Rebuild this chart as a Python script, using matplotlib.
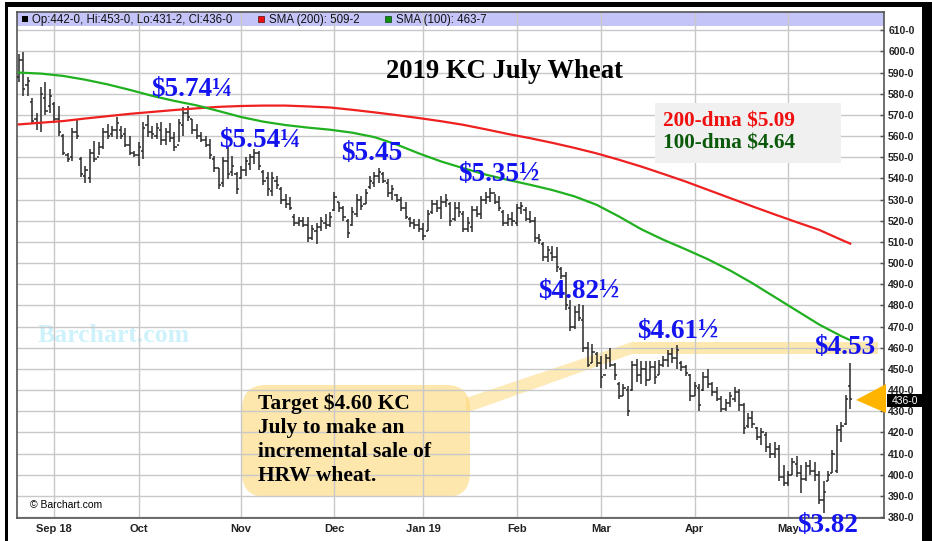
import matplotlib
matplotlib.use('Agg')
import matplotlib.pyplot as plt
from matplotlib.patches import Rectangle, FancyBboxPatch, Polygon

# ---------------- data ----------------
highs = [598.7, 599.7, 588, 578, 571, 583, 585.4, 582, 576, 574,
         561, 552, 564, 568, 550, 546, 554, 557.6, 557, 564,
         565.6, 564.6, 569, 564.6, 564, 560, 553, 557, 566.5, 570,
         564.6, 566, 566.5, 564, 566, 562, 568, 573.6, 574, 568,
         565.6, 562, 560, 558.5, 550.5, 545, 550, 555, 550.5, 543,
         546, 550, 551.5, 554, 553, 544, 543, 543, 541, 536,
         532.5, 531, 523, 522, 522, 521.7, 518, 519, 521.7, 523,
         524, 533.5, 529, 527, 521, 526.4, 532.5, 531.6, 535, 541,
         543, 545, 543, 539.6, 537, 532.5, 531, 529, 522, 520.7,
         520.7, 519, 525, 530, 530, 531.6, 532.5, 529, 529, 529,
         524.5, 522, 527, 527, 531.6, 533.5, 535.5, 532.5, 531.6, 525,
         523, 524, 527.8, 529, 526.4, 524.5, 521.7, 513.6, 510, 508,
         508, 507.5, 498, 496, 482.5, 479.6, 480.6, 480, 462.6, 462,
         458, 456, 457, 460, 453, 444, 443, 442, 453.6, 454.6,
         453.6, 453.6, 453.6, 453.6, 454, 456, 459, 460, 461.5, 453.6,
         451.8, 447.5, 444, 442.8, 448.4, 449.9, 444, 441.4, 437, 436,
         439, 441.4, 440.5, 434, 429, 430, 422.7, 422, 420, 414.8,
         415.6, 414, 404.7, 401.6, 407.8, 409, 404.7, 406, 407, 406,
         402, 397, 401.6, 411.7, 423.4, 425, 437.5, 453]
lows = [585.4, 579, 579, 565.6, 563, 562, 570, 571, 566, 560,
        551, 547.6, 548, 558.5, 540.6, 538, 538, 547.6, 551, 554,
        558.5, 559.5, 558.5, 558.5, 555, 551, 550, 546, 549, 559.5,
        558.5, 558.5, 556, 556, 557, 553, 557, 560, 567, 561,
        558.5, 557, 555, 549, 543, 535, 536, 539.6, 541, 532.5,
        539.6, 541, 544, 547, 544, 537, 531.6, 531.6, 535, 528,
        526, 525, 517.4, 517.4, 517, 510, 511, 509, 515, 516,
        517, 524.5, 524, 520, 512, 517.4, 521.7, 525, 528, 535,
        536, 538, 538, 531, 530, 529, 524.5, 520.7, 517, 516,
        514.6, 511, 515, 523, 524, 520.7, 526.4, 517.4, 520, 522,
        514.6, 514.6, 514.6, 522, 520.7, 528, 528.7, 528, 524.5, 517.4,
        517.4, 517.4, 517.4, 523, 520, 519, 510, 509, 501, 500.4,
        501, 496, 492.4, 478, 468, 468.8, 472.6, 458, 450.8, 453,
        451, 441, 450, 450.8, 445, 435.7, 437, 427.7, 439.5, 443.7,
        443, 442, 444.6, 443, 447, 451, 451, 453, 450, 449,
        446.5, 434.7, 437, 430, 439.5, 441, 437, 434.7, 429.6, 430,
        432, 434.3, 430, 419.5, 422, 422, 416.4, 414, 411, 407.8,
        407.8, 397, 394.5, 394.5, 400, 399, 391.4, 397, 400, 397,
        386, 382, 396.9, 400.8, 400.8, 415.6, 423.4, 431.25]
opens = [588, 596, 584, 576, 568, 566, 578, 574, 575, 568,
         560, 551, 550, 562, 549, 541, 540, 552, 550, 555,
         562, 561, 563, 563, 561, 556, 552, 551, 553, 565,
         562, 560, 563, 558, 562, 559, 556, 565, 571, 568,
         563, 560, 558, 556, 549, 545, 538, 548, 543, 542,
         540, 544, 547, 550, 552, 543, 540, 534, 539, 535,
         530, 528, 522, 519, 520, 518, 512, 515, 517, 519,
         518, 525, 529, 526, 520, 518, 523, 530, 528, 536,
         538, 541, 542, 538, 533, 532, 530, 526, 521, 519,
         518, 516, 515, 524, 528, 526, 529, 528, 521, 526,
         523, 516, 517, 525, 523, 530, 531, 533, 529, 524,
         519, 521, 519, 526, 525, 521, 520, 512, 509, 503,
         505, 503, 497, 494, 479, 470, 477, 473, 460, 453,
         457, 453, 447, 455, 452, 443, 437, 440, 440, 452,
         447, 450, 445, 451, 447, 452, 454, 457, 455, 453,
         451, 447, 437, 441, 440, 446, 443, 439, 436, 431,
         434, 436, 439, 433, 423, 427, 422, 418, 419, 413,
         410, 412, 399, 396, 400, 405, 401, 398, 404, 402,
         400, 388, 397, 401, 402, 421, 424, 442]
closes = [596, 582, 586, 567, 566, 580, 572, 579, 568, 562,
          552, 549, 562, 560, 542, 544, 552, 549, 555, 562,
          560, 563, 566, 560, 556, 552, 551, 555, 564, 562,
          561, 564, 558, 562, 559, 555, 566, 571, 569, 563,
          560, 558, 556, 551, 545, 537, 548, 542, 546, 535,
          544, 548, 550, 552, 546, 539, 535, 540, 537, 530,
          528, 526, 519, 520, 518, 512, 516, 517, 520, 518,
          522, 531, 526, 522, 514, 524, 530, 527, 533, 539,
          541, 543, 539, 533, 535, 530, 526, 522, 519, 518,
          516, 513, 523, 528, 526, 529, 530, 520, 526, 524,
          516, 519, 525, 523, 530, 531, 533, 529, 526, 519,
          521, 520, 526, 527, 521, 520, 512, 511, 503, 506,
          503, 498, 494, 480, 470, 477, 474, 460, 452, 458,
          453, 446, 455, 452, 447, 437, 441, 430, 452, 447,
          450, 445, 451, 446, 452, 454, 457, 455, 459, 451,
          448, 437, 442, 433, 446, 443, 439, 436, 431, 434,
          437, 439, 433, 422, 427, 424, 418, 420, 413, 410,
          412, 399, 396, 400, 406, 401, 398, 404, 402, 400,
          388, 392, 400, 410, 421, 423, 436, 436]

sma_bar = [0, 5, 10, 15, 20, 25, 30, 35, 40, 45, 50, 55, 60, 65, 70, 75, 80, 85,
           90, 95, 100, 105, 110, 115, 120, 125, 130, 135, 140, 145, 150, 155,
           160, 165, 170, 175, 180, 185, 187]
sma200 = [565.5, 566.3, 567.1, 568.3, 569.4, 570.5, 571.4, 572.3, 573.1, 573.8,
          574.2, 574.4, 574.4, 574.0, 573.5, 572.4, 571.2, 569.9, 568.5, 567.0,
          565.3, 563.2, 561.0, 559.0, 556.8, 554.4, 551.8, 548.8, 545.6, 542.1,
          538.5, 534.6, 530.7, 526.8, 523.0, 519.3, 515.7, 511.0, 509.2]
sma100 = [590.0, 589.5, 588.4, 586.6, 584.4, 581.8, 579.0, 576.6, 574.5, 571.8,
          569.0, 566.8, 565.2, 564.0, 563.0, 561.6, 559.5, 556.0, 551.8, 548.0,
          544.8, 541.8, 539.3, 537.0, 534.5, 531.5, 527.5, 522.0, 516.0, 511.0,
          506.5, 501.8, 496.5, 490.5, 484.0, 477.5, 471.0, 465.5, 463.6]

month_labels = ['Sep 18', 'Oct', 'Nov', 'Dec', 'Jan 19', 'Feb', 'Mar', 'Apr', 'May']
month_bar = [8, 27, 50, 71, 91, 112, 131, 152, 173]

price_ticks = [380, 390, 400, 410, 420, 430, 440, 450, 460, 470, 480, 490,
               500, 510, 520, 530, 540, 550, 560, 570, 580, 590, 600, 610]
price_tick_labels = [f'{p}-0' for p in price_ticks]

price_notes = [('$5.74\u00bc', 39, 582.1), ('$5.54\u00bc', 54.2, 557.8),
               ('$5.45', 79.3, 551.6), ('$5.35\u00bd', 107.9, 542.0),
               ('$4.82\u00bd', 126, 486.7), ('$4.61\u00bd', 148.3, 467.8),
               ('$4.53', 185.8, 460.3), ('$3.82', 181.8, 376.2)]

# ---------------- figure ----------------
SERIF = ['Liberation Serif', 'DejaVu Serif']
SANS = ['Liberation Sans', 'DejaVu Sans']
W, H = 932, 541
fig = plt.figure(figsize=(W / 100, H / 100), dpi=100, facecolor='white')

# background pixel layer
bg = fig.add_axes([0, 0, 1, 1], label='bg', zorder=0)
bg.set_xlim(0, W); bg.set_ylim(H, 0); bg.axis('off')

# header band
bg.add_patch(Rectangle((17, 12), 867, 14, facecolor='#c4c4f8', edgecolor='none'))
# callout box, wedge and highlight band
bg.add_patch(FancyBboxPatch((242, 385), 228, 112,
                            boxstyle='round,pad=0,rounding_size=24',
                            facecolor='#fcd97a', edgecolor='none', alpha=0.62))
bg.add_patch(Polygon([(466, 398), (632, 342), (632, 354), (466, 413)],
                     closed=True, facecolor='#fcd97a', edgecolor='none', alpha=0.55))
bg.add_patch(Rectangle((632, 342), 246, 12, facecolor='#fcd97a',
                       edgecolor='none', alpha=0.6))
bg.text(114, 335, 'Barchart.com', family=SERIF, fontweight='bold', fontsize=18.5,
        color='#cdf2fb', ha='center', va='center')

# main price axes
ax = fig.add_axes([17 / W, 23 / H, (884 - 17) / W, (518 - 12) / H], zorder=1)
ax.set_facecolor('none')
ax.set_xlim(-0.4, 194.6)
ax.set_ylim(379.6, 618.6)

for p in price_ticks:
    ax.axhline(p, color='#c8c8c8', lw=1, zorder=1)
for m in month_bar:
    ax.axvline(m, color='#c8c8c8', lw=1, zorder=1)

idx = list(range(len(highs)))
ax.vlines(idx, lows, highs, color='#2a2a2a', lw=1.1, zorder=3)
ax.hlines(opens, [i - 0.5 for i in idx], idx, color='#2a2a2a', lw=1.1, zorder=3)
ax.hlines(closes, idx, [i + 0.5 for i in idx], color='#2a2a2a', lw=1.1, zorder=3)

ax.plot(sma_bar, sma200, color='#ee2020', lw=1.6, zorder=4)
ax.plot(sma_bar, sma100, color='#20b020', lw=1.6, zorder=4)

for txt, b, p in price_notes:
    ax.text(b, p, txt, family=SERIF, fontweight='bold', fontsize=19.5,
            color='#1414f0', ha='center', va='center', zorder=6)

ax.yaxis.tick_right()
ax.set_yticks(price_ticks)
ax.set_yticklabels(price_tick_labels, family=SANS, fontweight='bold', fontsize=7.5,
                   color='#222222')
ax.tick_params(axis='y', direction='in', length=3, width=1, color='#555555', pad=3)
ax.set_xticks(month_bar)
ax.set_xticklabels(month_labels, family=SANS, fontweight='bold', fontsize=8,
                   color='#222222')
ax.tick_params(axis='x', length=0, pad=4)
for s in ax.spines.values():
    s.set_color('#555555')
    s.set_linewidth(1.2)

# foreground pixel layer
fg = fig.add_axes([0, 0, 1, 1], label='fg', zorder=2)
fg.set_xlim(0, W); fg.set_ylim(H, 0); fg.axis('off')
fg.patch.set_alpha(0)

# outer frame
fg.add_patch(Rectangle((5, 2), 3, H, facecolor='black', edgecolor='none'))
fg.add_patch(Rectangle((5, 2), W, 5, facecolor='black', edgecolor='none'))
fg.add_patch(Rectangle((922, 2), 10, H, facecolor='black', edgecolor='none'))

# header legend
fg.add_patch(Rectangle((22, 16), 6, 6, facecolor='black'))
fg.text(32, 19.5, 'Op:442-0, Hi:453-0, Lo:431-2, Cl:436-0', family=SANS,
        fontsize=8.3, color='#111111', va='center')
fg.add_patch(Rectangle((258, 16), 6, 6, facecolor='#ee1010', edgecolor='#551111', lw=0.5))
fg.text(269, 19.5, 'SMA (200): 509-2', family=SANS, fontsize=8.3, color='#111111', va='center')
fg.add_patch(Rectangle((385, 16), 6, 6, facecolor='#109010', edgecolor='#114411', lw=0.5))
fg.text(396, 19.5, 'SMA (100): 463-7', family=SANS, fontsize=8.3, color='#111111', va='center')

# title
fg.text(504, 72, '2019 KC July Wheat', family=SERIF, fontweight='bold', fontsize=19.2,
        color='black', ha='center', va='center')

# dma legend box
fg.add_patch(Rectangle((655, 103), 186, 60, facecolor='#f0f0f0', edgecolor='none'))
fg.text(663, 121, '200-dma $5.09', family=SERIF, fontweight='bold', fontsize=15.3,
        color='#f01010', va='center')
fg.text(663, 144, '100-dma $4.64', family=SERIF, fontweight='bold', fontsize=15.3,
        color='#0b5a0b', va='center')

# callout text
fg.text(258, 394, 'Target $4.60 KC\nJuly to make an\nincremental sale of\nHRW wheat.',
        family=SERIF, fontweight='bold', fontsize=15.5, color='black',
        va='top', ha='left', linespacing=1.25)

# last price pointer and box
fg.add_patch(Polygon([(856, 400), (886, 384), (886, 413)], closed=True,
                     facecolor='#ffb400', edgecolor='none'))
fg.add_patch(Rectangle((887, 394), 36, 13, facecolor='black', edgecolor='none'))
fg.text(905, 400.5, '436-0', family=SANS, fontsize=7.5, color='white',
        ha='center', va='center')

fg.text(30, 505, '\u00a9 Barchart.com', family=SANS, fontsize=7.5, color='black',
        va='center')

fig.savefig('out.png', dpi=100, facecolor='white')
